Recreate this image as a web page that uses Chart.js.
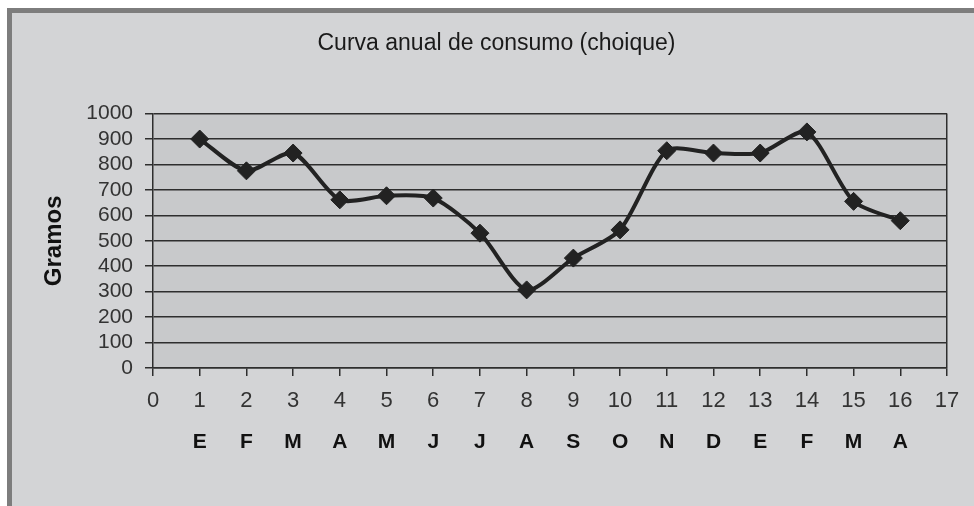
<!DOCTYPE html>
<html><head><meta charset="utf-8">
<script src="https://cdn.jsdelivr.net/npm/chart.js@4.4.0/dist/chart.umd.min.js"></script>
<style>
html,body{margin:0;padding:0;background:#fff;width:974px;height:506px;overflow:hidden}
#frame{position:absolute;left:7px;top:8px;right:0;bottom:0;background:#d3d4d6;border-top:5px solid #7d7d7d;border-left:5px solid #7d7d7d}
#wrap{position:absolute;left:0;top:0;width:974px;height:506px}
</style></head><body>
<div id="frame"></div>
<div id="wrap"><canvas id="c" width="974" height="506"></canvas></div>
<script>
const titleText = 'Curva anual de consumo (choique)';
const yAxisTitle = 'Gramos';
const xValues = [1, 2, 3, 4, 5, 6, 7, 8, 9, 10, 11, 12, 13, 14, 15, 16];
const gramos = [900, 775, 845, 661, 677, 668, 530, 307, 432, 543, 854, 845, 845, 928, 655, 579];
const monthLabels = ['E', 'F', 'M', 'A', 'M', 'J', 'J', 'A', 'S', 'O', 'N', 'D', 'E', 'F', 'M', 'A'];
const xMin = 0, xMax = 17;
const yMin = 0, yMax = 1000, yStep = 100;

const FONT = "'Liberation Sans', Arial, sans-serif";
const AXIS = '#2e2e2e';
const TITLE_SHIFT = 17;

const plotBg = {
  id: 'plotBg',
  afterLayout(chart) {
    const tb = chart.titleBlock;
    if (tb) { tb.left += TITLE_SHIFT; tb.right += TITLE_SHIFT; }
  },
  beforeDraw(chart) {
    const a = chart.chartArea, ctx = chart.ctx;
    ctx.save();
    ctx.fillStyle = '#c8c9cb';
    ctx.fillRect(a.left, a.top, a.right - a.left, a.bottom - a.top);
    ctx.restore();
  }
};

new Chart(document.getElementById('c'), {
  type: 'line',
  data: {
    datasets: [{
      data: xValues.map((x, i) => ({ x: x, y: gramos[i] })),
      borderColor: '#222',
      borderWidth: 4,
      tension: 0.25,
      pointStyle: 'rectRot',
      pointRadius: 9,
      pointBackgroundColor: '#222',
      pointBorderColor: '#222',
      pointBorderWidth: 1,
      fill: false
    }]
  },
  options: {
    responsive: false,
    animation: false,
    devicePixelRatio: 1,
    layout: { padding: { left: 12, top: 13, right: 27, bottom: 48 } },
    plugins: {
      legend: { display: false },
      tooltip: { enabled: false },
      title: {
        display: true,
        text: titleText,
        color: '#1a1a1a',
        font: { family: FONT, size: 23, weight: 'normal' },
        padding: { top: 17, bottom: 56 }
      }
    },
    scales: {
      x: {
        type: 'linear',
        position: 'bottom',
        weight: 0,
        min: xMin, max: xMax,
        afterFit(s) { s.height = 50; },
        ticks: {
          stepSize: 1, autoSkip: false, maxRotation: 0,
          color: '#333', padding: 12,
          font: { family: FONT, size: 22 },
          callback: (v) => String(v)
        },
        grid: {
          color: (ctx) => (ctx.tick && ctx.tick.value === xMax) ? AXIS : 'rgba(0,0,0,0)',
          tickColor: AXIS, tickLength: 8, lineWidth: 1.5
        },
        border: { display: true, color: AXIS, width: 1.5 }
      },
      months: {
        type: 'linear',
        position: 'bottom',
        weight: 1,
        min: xMin, max: xMax,
        afterFit(s) { s.height = 40; },
        afterBuildTicks(s) { s.ticks = monthLabels.map((m, i) => ({ value: xValues[i] })); },
        ticks: {
          autoSkip: false, maxRotation: 0,
          color: '#111', padding: 12,
          font: { family: FONT, size: 21, weight: 'bold' },
          callback: (v) => monthLabels[xValues.indexOf(v)]
        },
        grid: { display: false, drawTicks: false },
        border: { display: false }
      },
      y: {
        min: yMin, max: yMax,
        afterFit(s) { s.width = 141; },
        ticks: {
          stepSize: yStep, autoSkip: false, color: '#333', padding: 12,
          font: { family: FONT, size: 21 },
          callback: (v) => String(v)
        },
        grid: { color: AXIS, tickColor: AXIS, tickLength: 8, lineWidth: 1.5 },
        border: { display: true, color: AXIS, width: 1.5 },
        title: {
          display: true,
          text: yAxisTitle,
          color: '#111',
          font: { family: FONT, size: 24, weight: 'bold' },
          padding: { top: 28, bottom: 0 }
        }
      }
    }
  },
  plugins: [plotBg]
});
</script>
</body></html>
